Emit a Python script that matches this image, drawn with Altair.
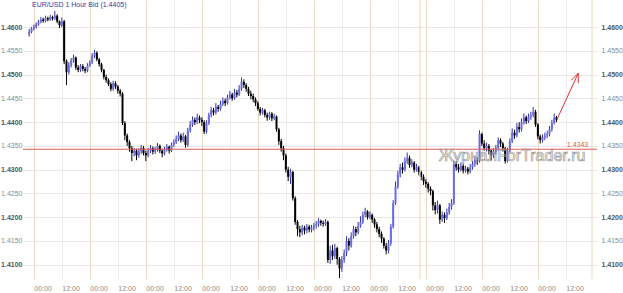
import altair as alt
import pandas as pd

# ---- data (prices in pips above 1.4000) ----
BASE = 1.4
START_T = -2          # hour index of first bar (0 = first 00:00)
FIRST_OPEN = 585
CLOSE = [
    590, 597,
    600, 606, 611, 616, 613, 619, 616, 621, 618, 624, 612, 604,
    612, 528, 505, 520, 530, 536, 515, 510, 518, 512, 508, 520,
    526, 540, 546, 532, 522, 510, 495, 488, 480, 470, 482, 475,
    466, 460, 398, 372, 358, 345, 335, 340, 330, 338, 346, 335,
    330, 340, 345, 338, 342, 350, 340, 334, 342, 348, 340, 352,
    358, 365, 372, 362, 370, 352, 382, 395, 405, 400, 410, 405,
    400, 380, 398, 415, 425, 420, 432, 428, 438, 445, 440, 452,
    458, 450, 462, 458, 470, 485, 478, 470, 460, 455, 448, 440,
    428, 420, 425, 415, 410, 418, 408, 412, 385, 360, 345, 330,
    300, 285, 295, 240, 190, 175, 168, 178, 172, 180, 174, 178,
    182, 185, 192, 188, 186, 190, 110, 130, 118, 135, 112, 92,
    110, 125, 150, 140, 160, 175, 168, 182, 190, 205, 212, 200,
    205, 195, 185, 175, 165, 155, 140, 130, 145, 180, 230, 265,
    290, 305, 300, 318, 325, 310, 315, 300, 305, 295, 285, 275,
    270, 260, 255, 225, 215, 225, 195, 205, 198, 210, 222, 230,
    312, 305, 300, 308, 298, 302, 296, 305, 312, 320, 318, 375,
    355, 345, 350, 340, 330, 338, 345, 362, 355, 345, 318, 340,
    360, 378, 372, 390, 385, 400, 410, 402, 412, 415, 422, 395,
    370, 362, 368, 372, 375, 385, 398, 410, 405,
]
HIGH = [
    596, 600,
    605, 610, 615, 621, 620, 624, 622, 626, 624, 634, 627, 614,
    620, 615, 532, 526, 535, 542, 538, 520, 522, 522, 516, 524,
    530, 545, 552, 549, 535, 525, 512, 500, 492, 484, 487, 486,
    478, 470, 463, 402, 376, 362, 350, 346, 344, 345, 352, 350,
    340, 346, 352, 349, 348, 356, 353, 344, 348, 354, 351, 357,
    364, 372, 380, 376, 378, 373, 388, 402, 412, 410, 418, 414,
    410, 404, 404, 420, 432, 430, 440, 436, 445, 452, 450, 458,
    466, 462, 470, 468, 478, 494, 490, 482, 474, 466, 460, 452,
    444, 432, 430, 428, 420, 422, 421, 418, 414, 388, 365, 350,
    334, 306, 302, 298, 244, 194, 182, 184, 182, 186, 184, 184,
    188, 192, 198, 195, 193, 196, 193, 140, 142, 144, 138, 116,
    118, 132, 160, 156, 168, 182, 180, 190, 202, 212, 220, 215,
    212, 208, 198, 190, 180, 170, 158, 146, 152, 186, 236, 275,
    298, 312, 315, 326, 336, 330, 322, 318, 312, 308, 298, 290,
    280, 274, 265, 258, 232, 235, 228, 212, 210, 218, 230, 238,
    319, 318, 312, 315, 312, 308, 306, 312, 318, 326, 326, 383,
    378, 362, 357, 354, 344, 345, 352, 368, 366, 358, 348, 346,
    366, 387, 384, 398, 400, 408, 418, 414, 418, 422, 432, 426,
    398, 374, 374, 378, 382, 392, 405, 418, 413,
]
LOW = [
    580, 587,
    593, 597, 603, 608, 609, 610, 612, 613, 614, 615, 608, 598,
    600, 522, 478, 500, 515, 525, 510, 505, 506, 507, 503, 505,
    516, 522, 535, 528, 517, 505, 490, 483, 476, 465, 466, 470,
    460, 454, 394, 362, 350, 338, 318, 328, 320, 325, 333, 330,
    318, 326, 335, 332, 333, 338, 335, 326, 330, 338, 334, 337,
    348, 354, 360, 357, 358, 346, 348, 378, 390, 394, 396, 398,
    392, 375, 376, 394, 410, 414, 416, 422, 424, 434, 434, 437,
    448, 445, 447, 452, 455, 466, 472, 464, 455, 448, 442, 434,
    424, 414, 416, 410, 403, 405, 402, 404, 380, 352, 338, 320,
    294, 276, 270, 235, 184, 160, 158, 162, 164, 166, 168, 168,
    172, 176, 180, 182, 180, 182, 104, 102, 110, 112, 100, 72,
    85, 104, 118, 130, 136, 155, 160, 164, 178, 186, 200, 195,
    196, 188, 178, 168, 158, 146, 134, 122, 124, 140, 176, 226,
    260, 284, 292, 296, 312, 304, 305, 294, 296, 288, 278, 268,
    262, 252, 246, 214, 206, 208, 186, 190, 188, 194, 205, 216,
    226, 298, 294, 296, 292, 294, 290, 292, 300, 306, 310, 315,
    350, 340, 338, 332, 319, 325, 332, 340, 348, 338, 313, 315,
    336, 356, 365, 368, 378, 380, 395, 396, 398, 405, 410, 390,
    364, 355, 357, 362, 366, 370, 380, 395, 400,
]

TIME_TICKS = [0, 12, 24, 36, 48, 60, 72, 84, 96, 108, 120, 132, 144,
              156, 168, 180, 192, 204, 216, 228]
PRICE_TICKS = [1.41, 1.415, 1.42, 1.425, 1.43, 1.435, 1.44, 1.445,
               1.45, 1.455, 1.46]
SEPARATORS = [165.5, 239.2]
LEVEL = [1.4343]
LEVEL_LABEL_T = [237.6]
ARROW_T = [224.4, 233.3]
ARROW_P = [408, 503]
HEAD_T = [230.3, 233.3]
HEAD_P = [488, 482]
TITLE = "EUR/USD 1 Hour Bid (1.4405)"
WATERMARK = "ЖурналForTrader.ru"

X_DOMAIN = [-2.5, 239.2]
Y_DOMAIN = [1.4070, 1.4657]

opens = [FIRST_OPEN] + CLOSE[:-1]
df = pd.DataFrame({
    "t": list(range(START_T, START_T + len(CLOSE))),
    "o": [BASE + v / 10000 for v in opens],
    "c": [BASE + v / 10000 for v in CLOSE],
    "h": [BASE + v / 10000 for v in HIGH],
    "l": [BASE + v / 10000 for v in LOW],
})

FONT = "Liberation Sans"
xs = alt.Scale(domain=X_DOMAIN, nice=False, zero=False)
ys = alt.Scale(domain=Y_DOMAIN, nice=False, zero=False)

x_axis = alt.Axis(
    values=TIME_TICKS, labelExpr="datum.value % 24 === 0 ? '00:00' : '12:00'",
    grid=True,
    gridColor={"condition": {"test": "datum.value % 24 === 0", "value": "#e4d8c2"},
               "value": "#eeeeee"},
    gridWidth=1, domain=False, ticks=False, labelAlign="left", labelBaseline="top",
    labelPadding=5, labelFont=FONT, labelFontSize=7, labelColor="#8a8a8a",
    labelFlush=False, labelOverlap=False, title=None,
)
bold_test = "round(datum.value*10000) % 100 === 0"
def y_axis(orient, pad, grid):
    return alt.Axis(
        orient=orient, values=PRICE_TICKS, format=".4f", grid=grid,
        gridColor="#ebe7e2", domain=False, ticks=False, labelPadding=pad,
        labelFont=FONT, labelFontSize=7,
        labelFontWeight={"condition": {"test": bold_test, "value": "bold"}, "value": "normal"},
        labelColor={"condition": {"test": bold_test, "value": "#555555"}, "value": "#8a8a8a"},
        title=None,
    )

up = "datum.c >= datum.o"
wicks = alt.Chart(df).mark_rule(strokeWidth=1).encode(
    x=alt.X("t:Q", scale=xs, axis=x_axis),
    y=alt.Y("l:Q", scale=ys, axis=y_axis("left", 1, True)),
    y2="h:Q",
    color=alt.condition(up, alt.value("#3434b0"), alt.value("#000000")),
)
bodies = alt.Chart(df).mark_bar(size=2).encode(
    x=alt.X("t:Q", scale=xs, axis=None),
    y=alt.Y("o:Q", scale=ys, axis=y_axis("right", 4, False)),
    y2="c:Q",
    color=alt.condition(up, alt.value("#6c6ce4"), alt.value("#000000")),
)

sep = alt.Chart(pd.DataFrame({"t": SEPARATORS})).mark_rule(
    color="#e4d8c2", strokeWidth=1).encode(x=alt.X("t:Q", scale=xs, axis=None))

level_df = pd.DataFrame({"p": LEVEL, "t": LEVEL_LABEL_T,
                         "lab": [f"{v:.4f}" for v in LEVEL]})
level = alt.Chart(level_df).mark_rule(color="#e05a50", strokeWidth=1).encode(
    y=alt.Y("p:Q", scale=ys, axis=None))
level_lab = alt.Chart(level_df).mark_text(
    color="#e05a50", font=FONT, fontSize=7, align="right", baseline="bottom", dy=-1
).encode(x=alt.X("t:Q", scale=xs, axis=None), y=alt.Y("p:Q", scale=ys, axis=None),
         text="lab:N")

arrow_df = pd.DataFrame({
    "t1": [ARROW_T[0], HEAD_T[0], HEAD_T[1]],
    "t2": [ARROW_T[1], ARROW_T[1], ARROW_T[1]],
    "p1": [BASE + ARROW_P[0] / 10000, BASE + HEAD_P[0] / 10000, BASE + HEAD_P[1] / 10000],
    "p2": [BASE + ARROW_P[1] / 10000] * 3,
})
arrow = alt.Chart(arrow_df).mark_rule(color="#e03030", strokeWidth=1).encode(
    x=alt.X("t1:Q", scale=xs, axis=None), x2="t2:Q",
    y=alt.Y("p1:Q", scale=ys, axis=None), y2="p2:Q")

txt_df = pd.DataFrame({"t": [-0.8], "p": [1.4646], "s": [TITLE]})
title = alt.Chart(txt_df).mark_text(
    color="#3a3aa8", font=FONT, fontSize=7, align="left", baseline="middle"
).encode(x=alt.X("t:Q", scale=xs, axis=None), y=alt.Y("p:Q", scale=ys, axis=None), text="s:N")

wm_df = pd.DataFrame({"t": [173.5], "p": [1.4328], "s": [WATERMARK]})
wm = alt.Chart(wm_df).mark_text(
    font=FONT, fontSize=16, align="left", baseline="middle",
    fill="#ffffff", fillOpacity=0.0, stroke="#9a9a9a", strokeWidth=0.7
).encode(x=alt.X("t:Q", scale=xs, axis=None), y=alt.Y("p:Q", scale=ys, axis=None), text="s:N")

chart = alt.layer(
    wicks, bodies, sep, level, wm, arrow, level_lab, title
).resolve_axis(x="independent", y="independent").properties(
    width=574, height=279,
    autosize=alt.AutoSizeParams(type="none"),
    padding={"left": 23, "right": 26, "top": 0, "bottom": 14},
    background="#ffffff",
).configure_view(stroke=None)

chart.save("out.html", embed_options={"renderer": "svg", "actions": False})
